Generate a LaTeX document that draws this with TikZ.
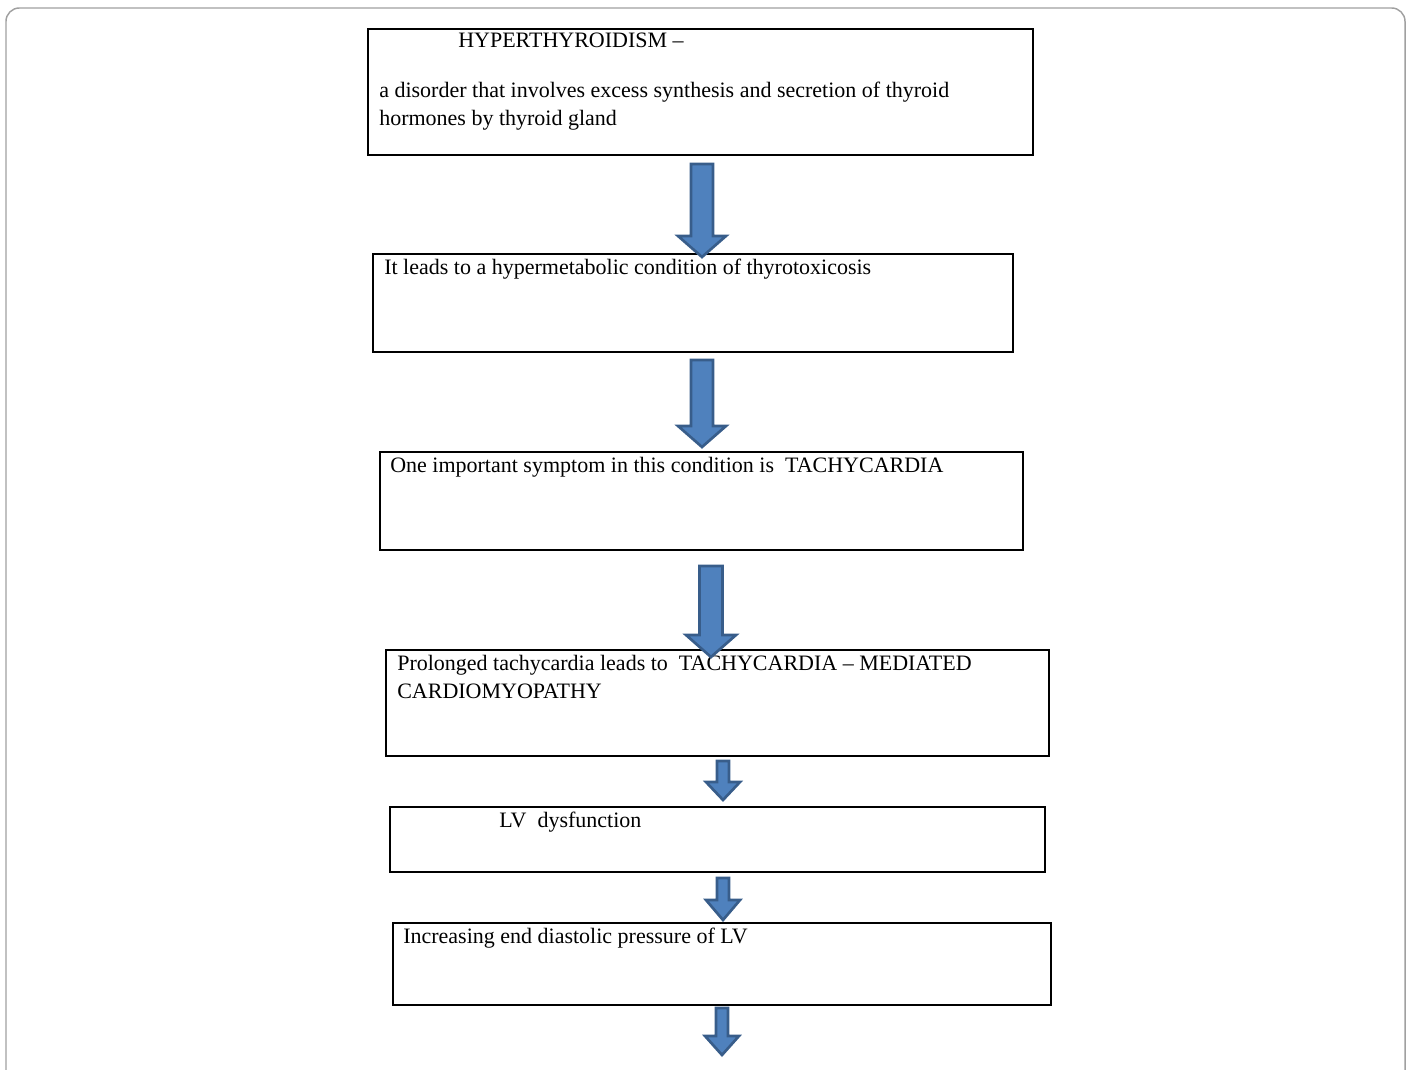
\documentclass[tikz,border=0pt]{standalone}
\usepackage{fontspec}
\setmainfont{Liberation Serif}
\usetikzlibrary{calc,fit}
\definecolor{arrowfill}{RGB}{79,129,189}
\definecolor{arrowline}{RGB}{56,93,138}
\definecolor{framegray}{RGB}{160,160,160}
\tikzset{
  flowbox/.style={draw=black, line width=1.5pt, inner sep=0pt},
  flowtext/.style={anchor=base west, inner sep=0pt, font=\fontsize{16.5}{21}\selectfont},
  blockarrow/.style={fill=arrowfill, draw=arrowline, line width=2pt, line join=miter}
}
% block arrow: top, tip, shaft half width, head half width, head length
\newcommand{\flowarrow}[5]{%
  \draw[blockarrow] ($(#1)+(-#3,0)$) -- ($(#1)+(#3,0)$) -- ($(#2)+(#3,-#5)$)
    -- ($(#2)+(#4,-#5)$) -- (#2) -- ($(#2)+(-#4,-#5)$) -- ($(#2)+(-#3,-#5)$) -- cycle;}
\begin{document}
\begin{tikzpicture}[x=0.75pt, y=-0.75pt]
% page, pixel units
\useasboundingbox (0,0) rectangle (1413,1070);
\draw[framegray, line width=1.1pt, rounded corners=10] (6,1070) -- (6,8) -- (1405,8) -- (1405,1070);
% Boxes
\coordinate (b1nw) at (368,29);  \coordinate (b1se) at (1033,155);
\coordinate (b2nw) at (373,254); \coordinate (b2se) at (1013,352);
\coordinate (b3nw) at (380,452); \coordinate (b3se) at (1023,550);
\coordinate (b4nw) at (386,650); \coordinate (b4se) at (1049,756);
\coordinate (b5nw) at (390,807); \coordinate (b5se) at (1045,872);
\coordinate (b6nw) at (393,923); \coordinate (b6se) at (1051,1005);
\foreach \i in {1,...,6}
  \node[flowbox, fit=(b\i nw)(b\i se)] (b\i) {};
% Texts
\node[flowtext] (t1a) at ($(b1.north west)+(91,20)$) {HYPERTHYROIDISM –};
\node[flowtext] (t1b) at ($(b1.north west)+(12,70)$) {a disorder that involves excess synthesis and secretion of thyroid};
\node[flowtext] (t1c) at ($(b1.north west)+(12,98)$) {hormones by thyroid gland};
\node[flowtext] (t2) at ($(b2.north west)+(12,21)$) {It leads to a hypermetabolic condition of thyrotoxicosis};
\node[flowtext] (t3) at ($(b3.north west)+(11,21)$) {One important symptom in this condition is\ \ TACHYCARDIA};
\node[flowtext] (t4a) at ($(b4.north west)+(12,21)$) {Prolonged tachycardia leads to\ \ TACHYCARDIA – MEDIATED};
\node[flowtext] (t4b) at ($(b4.north west)+(12,49)$) {CARDIOMYOPATHY};
\node[flowtext] (t5) at ($(b5.north west)+(110,21)$) {LV\ \ dysfunction};
\node[flowtext] (t6) at ($(b6.north west)+(11,21)$) {Increasing end diastolic pressure of LV};
% Arrows
\coordinate (a1s) at (702,164);  \coordinate (a1e) at (702,257);
\coordinate (a2s) at (702,360);  \coordinate (a2e) at (702,447);
\coordinate (a3s) at (711,566);  \coordinate (a3e) at (711,657);
\coordinate (a4s) at (723,761);  \coordinate (a4e) at (723,800);
\coordinate (a5s) at (723,878);  \coordinate (a5e) at (723,920);
\coordinate (a6s) at (722,1008); \coordinate (a6e) at (722,1055);
\flowarrow{a1s}{a1e}{11}{24}{21}
\flowarrow{a2s}{a2e}{11}{24}{21}
\flowarrow{a3s}{a3e}{11.5}{25}{22}
\flowarrow{a4s}{a4e}{6}{17}{18}
\flowarrow{a5s}{a5e}{6}{17}{20}
\flowarrow{a6s}{a6e}{6}{17}{19}
\end{tikzpicture}
\end{document}
